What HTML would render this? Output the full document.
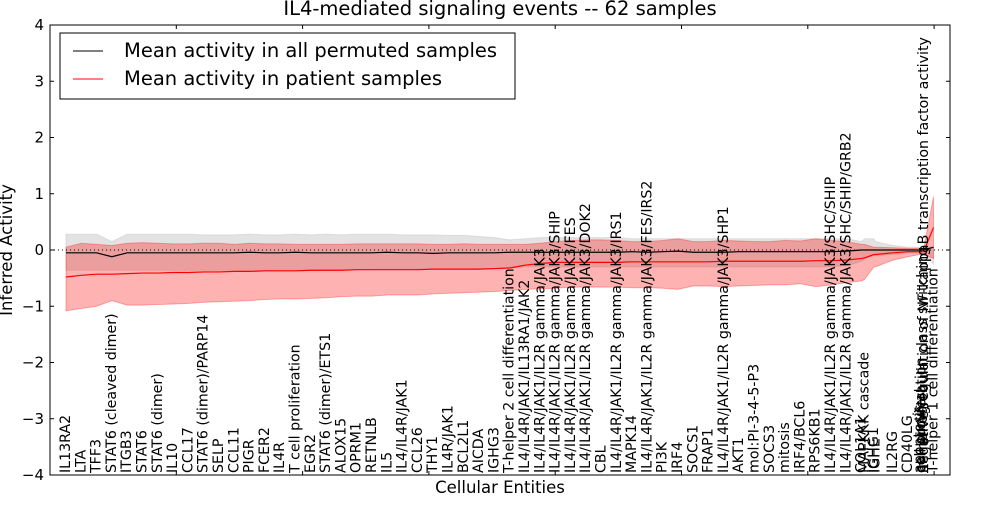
<!DOCTYPE html>
<html><head><meta charset="utf-8"><style>
body{margin:0;background:#fff}
svg text{font-family:"DejaVu Sans","Liberation Sans",sans-serif}
</style></head><body>
<svg id="chart" width="1000" height="500" xmlns="http://www.w3.org/2000/svg">
<rect x="0" y="0" width="1000" height="500" fill="#fff"/>
<text x="500" y="15" text-anchor="middle" font-size="19.5">IL4-mediated signaling events -- 62 samples</text>
<g id="plot"></g>
<g id="labels"></g>
<rect x="50" y="25" width="900" height="450" fill="none" stroke="#000" stroke-width="1"/>
<g id="axes"></g>
<text x="500" y="493" text-anchor="middle" font-size="16.5">Cellular Entities</text>
<text transform="translate(12,250) rotate(-90)" text-anchor="middle" font-size="16.5">Inferred Activity</text>
<g>
<rect x="60" y="33" width="455" height="66" fill="#fff" stroke="#000" stroke-width="1"/>
<line x1="73" y1="51" x2="103" y2="51" stroke="#000" stroke-width="1"/>
<text x="124" y="57" font-size="19.5">Mean activity in all permuted samples</text>
<line x1="73" y1="79" x2="103" y2="79" stroke="#f00" stroke-width="1"/>
<text x="124" y="85" font-size="19.5">Mean activity in patient samples</text>
</g>
</svg>
<script>
const labels=["IL13RA2","LTA","TFF3","STAT6 (cleaved dimer)","ITGB3","STAT6","STAT6 (dimer)","IL10","CCL17","STAT6 (dimer)/PARP14","SELP","CCL11","PIGR","FCER2","IL4R","T cell proliferation","EGR2","STAT6 (dimer)/ETS1","ALOX15","OPRM1","RETNLB","IL5","IL4/IL4R/JAK1","CCL26","THY1","IL4R/JAK1","BCL2L1","AICDA","IGHG3","T-helper 2 cell differentiation","IL4/IL4R/JAK1/IL13RA1/JAK2","IL4/IL4R/JAK1/IL2R gamma/JAK3","IL4/IL4R/JAK1/IL2R gamma/JAK3/SHIP","IL4/IL4R/JAK1/IL2R gamma/JAK3/FES","IL4/IL4R/JAK1/IL2R gamma/JAK3/DOK2","CBL","IL4/IL4R/JAK1/IL2R gamma/JAK3/IRS1","MAPK14","IL4/IL4R/JAK1/IL2R gamma/JAK3/FES/IRS2","PI3K","IRF4","SOCS1","FRAP1","IL4/IL4R/JAK1/IL2R gamma/JAK3/SHP1","AKT1","mol:PI-3-4-5-P3","SOCS3","mitosis","IRF4/BCL6","RPS6KB1","IL4/IL4R/JAK1/IL2R gamma/JAK3/SHC/SHIP","IL4/IL4R/JAK1/IL2R gamma/JAK3/SHC/SHIP/GRB2","COL1A1","MAPKKK cascade","IGHG1","IGHE","IL2RG","CD40LG","apoptosis","cell survival","cell proliferation","immunoglobulin class switching","negative regulation of NF-kappaB transcription factor activity","T-helper 1 cell differentiation"];
const positions=[0,1,2,3,4,5,6,7,8,9,10,11,12,13,14,15,16,17,18,19,20,21,22,23,24,25,26,27,28,29,30,31,32,33,34,35,36,37,38,39,40,41,42,43,44,45,46,47,48,49,50,51,52,52.2,52.8,52.9,54.05,55.03,55.8,55.87,55.93,56.0,56.07,56.7];
const patientMean=[-0.48,-0.45,-0.43,-0.43,-0.42,-0.41,-0.41,-0.40,-0.40,-0.39,-0.39,-0.38,-0.38,-0.37,-0.37,-0.37,-0.36,-0.36,-0.36,-0.35,-0.35,-0.35,-0.35,-0.35,-0.34,-0.34,-0.34,-0.34,-0.33,-0.32,-0.27,-0.24,-0.22,-0.22,-0.22,-0.22,-0.22,-0.21,-0.21,-0.21,-0.21,-0.21,-0.21,-0.20,-0.20,-0.20,-0.20,-0.20,-0.20,-0.19,-0.19,-0.18,-0.15,-0.14,-0.08,-0.08,-0.05,-0.03,-0.03,-0.03,-0.03,-0.03,-0.02,0.40];
const patientLo=[-1.08,-1.04,-1.0,-0.9,-0.98,-0.98,-0.97,-0.96,-0.95,-0.93,-0.92,-0.91,-0.9,-0.88,-0.87,-0.87,-0.86,-0.85,-0.83,-0.82,-0.82,-0.8,-0.8,-0.8,-0.78,-0.77,-0.76,-0.75,-0.74,-0.72,-0.7,-0.69,-0.68,-0.66,-0.66,-0.66,-0.66,-0.67,-0.67,-0.68,-0.7,-0.64,-0.64,-0.65,-0.64,-0.63,-0.62,-0.62,-0.6,-0.65,-0.62,-0.58,-0.55,-0.52,-0.3,-0.3,-0.18,-0.12,-0.08,-0.08,-0.08,-0.08,-0.08,-0.15];
const patientHi=[0.05,0.12,0.1,0.08,0.12,0.13,0.12,0.11,0.11,0.12,0.12,0.1,0.12,0.11,0.11,0.1,0.1,0.1,0.1,0.11,0.11,0.11,0.11,0.11,0.1,0.1,0.11,0.1,0.1,0.1,0.1,0.12,0.15,0.17,0.18,0.18,0.17,0.15,0.15,0.17,0.2,0.15,0.15,0.17,0.16,0.15,0.15,0.17,0.16,0.2,0.17,0.15,0.1,0.1,0.05,0.05,0.04,0.03,0.03,0.03,0.03,0.03,0.03,0.95];
const permMean=[-0.05,-0.05,-0.05,-0.12,-0.05,-0.05,-0.05,-0.05,-0.05,-0.05,-0.05,-0.05,-0.04,-0.05,-0.05,-0.04,-0.05,-0.05,-0.05,-0.05,-0.05,-0.04,-0.05,-0.05,-0.06,-0.05,-0.05,-0.05,-0.05,-0.04,-0.04,-0.04,-0.04,-0.04,-0.04,-0.04,-0.04,-0.03,-0.04,-0.03,-0.02,-0.04,-0.04,-0.04,-0.03,-0.03,-0.03,-0.03,-0.03,-0.03,-0.03,-0.02,0,0,0,0,0,0,0,0,0,0,0,0.05];
const permHi=[0.28,0.28,0.28,0.15,0.28,0.28,0.28,0.28,0.28,0.27,0.27,0.27,0.28,0.27,0.27,0.28,0.27,0.28,0.27,0.28,0.28,0.28,0.27,0.27,0.27,0.26,0.26,0.24,0.22,0.18,0.2,0.22,0.22,0.22,0.22,0.22,0.22,0.2,0.2,0.2,0.2,0.2,0.2,0.2,0.2,0.2,0.2,0.2,0.2,0.2,0.2,0.2,0.15,0.2,0.2,0.15,0.08,0.05,0.05,0.05,0.05,0.05,0.05,0.05];
const permLo=[-0.36,-0.36,-0.36,-0.36,-0.36,-0.36,-0.36,-0.36,-0.36,-0.36,-0.36,-0.36,-0.36,-0.36,-0.35,-0.35,-0.35,-0.35,-0.35,-0.35,-0.34,-0.34,-0.34,-0.34,-0.34,-0.34,-0.34,-0.33,-0.33,-0.32,-0.3,-0.3,-0.3,-0.3,-0.3,-0.3,-0.3,-0.3,-0.3,-0.3,-0.3,-0.3,-0.3,-0.3,-0.3,-0.3,-0.3,-0.3,-0.3,-0.3,-0.3,-0.28,-0.2,-0.15,-0.1,-0.1,-0.08,-0.05,-0.05,-0.05,-0.05,-0.05,-0.05,-0.25];
const yTicks=[-4,-3,-2,-1,0,1,2,3,4];
const xTickIdx=[0,10,20,30,40,50,60,70];

const NS="http://www.w3.org/2000/svg";
function xS(p){return 66+15.3*p;}
function yS(v){return 250-v*56.25;}
function mk(tag,attrs,parent){const e=document.createElementNS(NS,tag);for(const k in attrs)e.setAttribute(k,attrs[k]);parent.appendChild(e);return e;}
const plot=document.getElementById('plot'),lab=document.getElementById('labels'),axes=document.getElementById('axes');
function band(lo,hi,fill,op,name){
  let d='M'+positions.map((p,i)=>xS(p)+','+yS(hi[i])).join('L');
  for(let i=positions.length-1;i>=0;i--)d+='L'+xS(positions[i])+','+yS(lo[i]);
  const e=mk('path',{d:d+'Z',fill:fill,'fill-opacity':op,stroke:fill,'stroke-opacity':op,'stroke-width':1},plot);
  
  
}
function line(vals,col,name){
  const e=mk('path',{d:'M'+positions.map((p,i)=>xS(p)+','+yS(vals[i])).join('L'),fill:'none',stroke:col,'stroke-width':1.2},plot);
  
  
}
band(permLo,permHi,'#c8c8c8',0.5,'permuted-band');
band(patientLo,patientHi,'#ff0000',0.3,'patient-band');
const zl=mk('line',{x1:50,x2:950,y1:yS(0),y2:yS(0),stroke:'#000','stroke-dasharray':'1,3','stroke-width':1},plot);


line(permMean,'#000','permuted-mean-line');
line(patientMean,'#f00','patient-mean-line');
labels.forEach((t,i)=>{
  const x=xS(positions[i])+4;
  const e=mk('text',{transform:'translate('+x+',473) rotate(-90)','font-size':14.2},lab);
  e.textContent=t;
  
  
});
yTicks.forEach(v=>{
  const y=yS(v);
  mk('line',{x1:50,x2:54,y1:y,y2:y,stroke:'#000'},axes);
  mk('line',{x1:946,x2:950,y1:y,y2:y,stroke:'#000'},axes);
  const t=mk('text',{x:44,y:y+5,'text-anchor':'end','font-size':15},axes);
  t.textContent=(v<0?'\u2212':'')+Math.abs(v);
  
  
});
xTickIdx.forEach(v=>{
  const x=50+v*12.63;
  if(x>950)return;
  mk('line',{x1:x,x2:x,y1:25,y2:29,stroke:'#000'},axes);
  mk('line',{x1:x,x2:x,y1:471,y2:475,stroke:'#000'},axes);
});
</script>
</body></html>
